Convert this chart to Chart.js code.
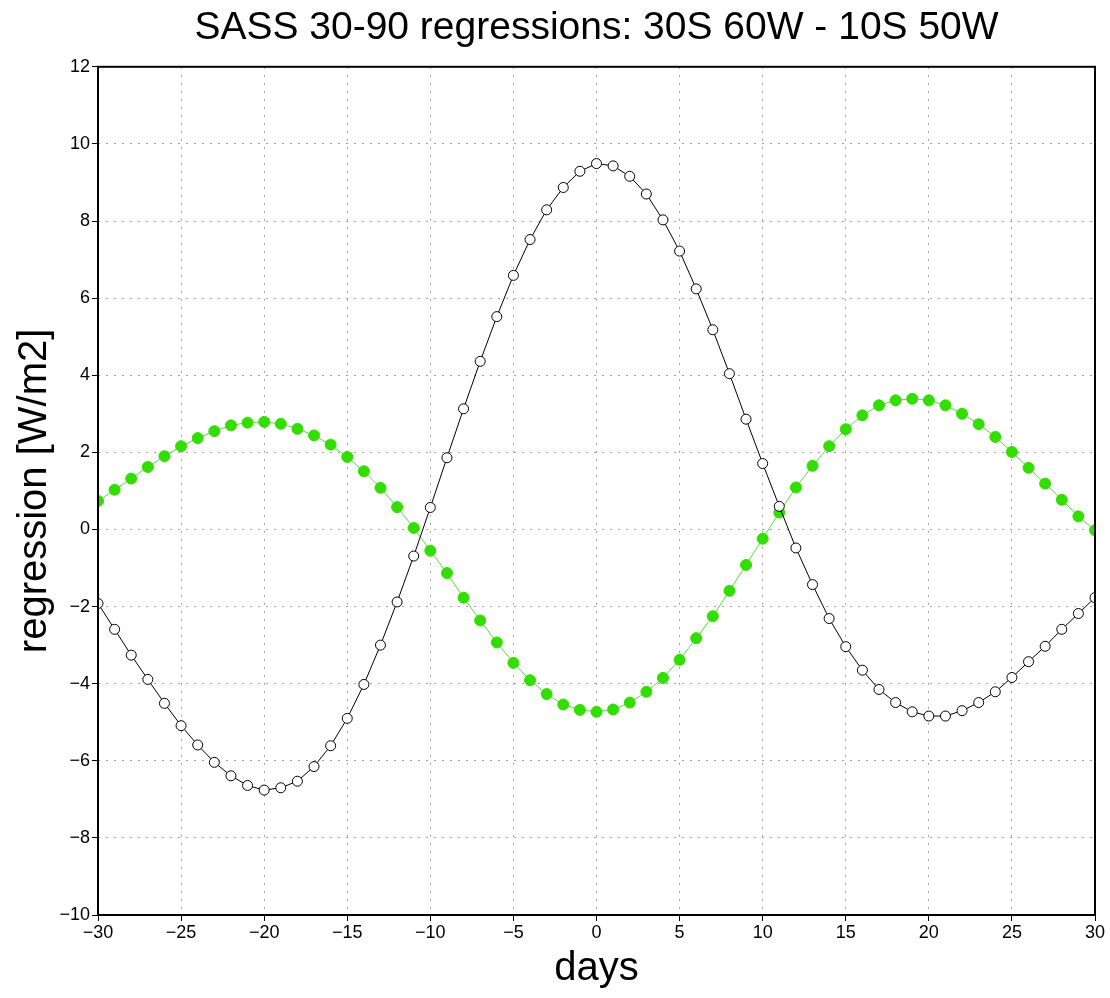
<!DOCTYPE html>
<html>
<head>
<meta charset="utf-8">
<script src="https://cdn.jsdelivr.net/npm/chart.js@4"></script>
<style>
  html, body { margin: 0; padding: 0; background: #fff; }
  #wrap { width: 1110px; height: 998px; }
</style>
</head>
<body>
<div id="wrap"><canvas id="regression-chart"></canvas></div>
<script>
const chartTitle = 'SASS 30-90 regressions: 30S 60W - 10S 50W';
const xTitle = 'days';
const yTitle = 'regression [W/m2]';

const days = [-30, -29, -28, -27, -26, -25, -24, -23, -22, -21, -20, -19, -18, -17, -16, -15, -14, -13, -12, -11,
    -10, -9, -8, -7, -6, -5, -4, -3, -2, -1, 0, 1, 2, 3, 4, 5, 6, 7, 8, 9,
    10, 11, 12, 13, 14, 15, 16, 17, 18, 19, 20, 21, 22, 23, 24, 25, 26, 27, 28, 29, 30];

const blackSeries = [-1.92, -2.59, -3.26, -3.89, -4.51, -5.09, -5.59, -6.04, -6.39, -6.64,
    -6.76, -6.70, -6.53, -6.15, -5.61, -4.90, -4.02, -3.00, -1.88, -0.69,
    0.57, 1.86, 3.13, 4.36, 5.52, 6.59, 7.52, 8.29, 8.87, 9.29,
    9.49, 9.43, 9.16, 8.70, 8.03, 7.22, 6.24, 5.18, 4.04, 2.86,
    1.71, 0.60, -0.48, -1.43, -2.31, -3.04, -3.65, -4.15, -4.49, -4.73,
    -4.84, -4.84, -4.70, -4.49, -4.21, -3.84, -3.43, -3.03, -2.59, -2.18, -1.77];

const greenSeries = [0.74, 1.03, 1.32, 1.62, 1.90, 2.16, 2.37, 2.55, 2.70, 2.77,
    2.79, 2.74, 2.61, 2.44, 2.20, 1.88, 1.51, 1.08, 0.58, 0.04,
    -0.55, -1.13, -1.77, -2.36, -2.93, -3.46, -3.91, -4.27, -4.54, -4.68,
    -4.73, -4.67, -4.49, -4.21, -3.85, -3.38, -2.82, -2.25, -1.59, -0.92,
    -0.24, 0.44, 1.09, 1.65, 2.16, 2.60, 2.96, 3.22, 3.35, 3.39,
    3.35, 3.22, 3.00, 2.73, 2.40, 2.01, 1.60, 1.19, 0.77, 0.34, -0.02];

const xTickLabels = [-30, -25, -20, -15, -10, -5, 0, 5, 10, 15, 20, 25, 30];
const yTickLabels = [-10, -8, -6, -4, -2, 0, 2, 4, 6, 8, 10, 12];

function toPoints(values) {
    return days.map((d, i) => ({ x: d, y: values[i] }));
}

function fmt(v) {
    return v < 0 ? '\u2212' + Math.abs(v) : String(v);
}

// black frame round the plot area
const framePlugin = {
    id: 'frame',
    afterDraw(chart) {
        const { ctx, chartArea: a } = chart;
        ctx.save();
        ctx.strokeStyle = '#000';
        ctx.lineWidth = 2;
        ctx.strokeRect(a.left, a.top, a.right - a.left, a.bottom - a.top);
        ctx.restore();
    }
};

const gridStyle = {
    color: '#a0a0a0',
    lineWidth: 1,
    drawTicks: true,
    tickLength: 6,
    tickColor: '#000',
    tickBorderDash: [0, 0]
};

Chart.defaults.font.family = '"Liberation Sans", Arial, sans-serif';
Chart.defaults.color = '#000';

new Chart(document.getElementById('regression-chart'), {
    type: 'line',
    data: {
        datasets: [{
            label: 'black',
            data: toPoints(blackSeries),
            borderColor: '#000',
            borderWidth: 1,
            pointRadius: 5,
            pointBorderWidth: 1,
            pointBackgroundColor: '#fff',
            pointBorderColor: '#000',
            tension: 0
        }, {
            label: 'green',
            data: toPoints(greenSeries),
            borderColor: '#55e040',
            borderWidth: 1,
            pointRadius: 5.5,
            pointBorderWidth: 1,
            pointBackgroundColor: '#33dd00',
            pointBorderColor: '#33dd00',
            tension: 0
        }]
    },
    options: {
        responsive: true,
        maintainAspectRatio: false,
        animation: false,
        layout: { padding: { left: 0, right: 15, top: 0, bottom: 0 } },
        plugins: {
            legend: { display: false },
            tooltip: { enabled: false },
            title: {
                display: true,
                fullSize: false,
                text: chartTitle,
                font: { size: 39, weight: 'normal' },
                color: '#000',
                padding: { top: 5, bottom: 15 }
            }
        },
        scales: {
            x: {
                type: 'linear',
                min: -30,
                max: 30,
                afterBuildTicks: s => { s.ticks = xTickLabels.map(v => ({ value: v })); },
                ticks: { callback: v => fmt(v), font: { size: 18 }, padding: 1, maxRotation: 0 },
                grid: gridStyle,
                border: { display: false, dash: [2, 6] },
                title: { display: true, text: xTitle, font: { size: 40 }, padding: { top: 0, bottom: 5 } },
                afterFit: s => { s.height = 83; }
            },
            y: {
                min: -10,
                max: 12,
                afterBuildTicks: s => { s.ticks = yTickLabels.map(v => ({ value: v })); },
                ticks: { callback: v => fmt(v), font: { size: 18 }, padding: 2 },
                grid: gridStyle,
                border: { display: false, dash: [2, 6] },
                title: { display: true, text: yTitle, font: { size: 40 }, padding: { top: 11, bottom: 0 } },
                afterFit: s => { s.width = 98; }
            }
        }
    },
    plugins: [framePlugin]
});
</script>
</body>
</html>
